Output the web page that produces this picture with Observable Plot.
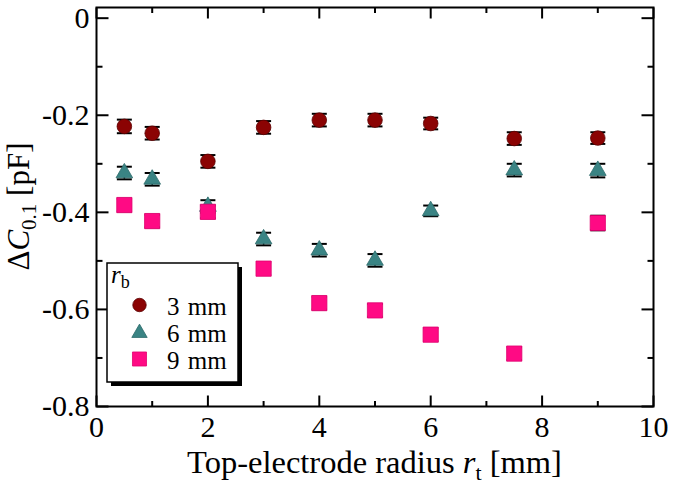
<!DOCTYPE html>
<html><head><meta charset="utf-8">
<script src="https://cdn.jsdelivr.net/npm/d3@7"></script>
<script src="https://cdn.jsdelivr.net/npm/@observablehq/plot@0.6"></script>
<style>body{margin:0;background:#fff} svg{display:block}</style>
</head><body><div id="chart"></div>
<script>
// ---- data ----
const radiusT = [0.5, 1, 2, 3, 4, 5, 6, 7.5, 9];            // top-electrode radius r_t [mm]
const seriesNames = ["3 mm", "6 mm", "9 mm"];               // bottom-electrode radius r_b
const dC_3mm = [-0.223, -0.237, -0.295, -0.225, -0.210, -0.210, -0.217, -0.248, -0.247];
const err_3mm = [0.014, 0.013, 0.013, 0.013, 0.013, 0.013, 0.012, 0.013, 0.012];
const dC_6mm = [-0.319, -0.332, -0.388, -0.455, -0.478, -0.499, -0.397, -0.313, -0.314];
const err_6mm = [0.013, 0.013, 0.013, 0.013, 0.013, 0.013, 0.011, 0.013, 0.014];
const dC_9mm = [-0.385, -0.418, -0.399, -0.516, -0.587, -0.602, -0.652, -0.691, -0.422];
const err_9mm = [0.013, 0.013, 0.013, 0.013, 0.013, 0.013, 0.013, 0.013, 0.015];
const xMajorTicks = [0, 2, 4, 6, 8, 10];
const xMinorTicks = [1, 3, 5, 7, 9];
const yMajorTicks = [0, -0.2, -0.4, -0.6, -0.8];
const yMinorTicks = [-0.1, -0.3, -0.5, -0.7];

// ---- build table ----
const values = [dC_3mm, dC_6mm, dC_9mm];
const errors = [err_3mm, err_6mm, err_9mm];
const rows = seriesNames.flatMap((s, k) => radiusT.map((x, i) => ({series: s, x, y: values[k][i], e: errors[k][i]})));
const bySeries = s => rows.filter(d => d.series === s);

const colors = {"3 mm": "#8b0303", "6 mm": "#3a8484", "9 mm": "#ff0a84"};
const strokes = {"3 mm": "#5a0000", "6 mm": "#2c6a6a", "9 mm": "#e0006e"};
const symbols = {"3 mm": "circle", "6 mm": "triangle", "9 mm": "square"};
const radii = {"3 mm": 7.3, "6 mm": 6.2, "9 mm": 8.6};

const vline = {draw(ctx, size) { const r = Math.sqrt(size / Math.PI); ctx.moveTo(0, -r); ctx.lineTo(0, r); }};
const hline = {draw(ctx, size) { const r = Math.sqrt(size / Math.PI); ctx.moveTo(-r, 0); ctx.lineTo(r, 0); }};

const font = "'Liberation Serif', 'Times New Roman', serif";
const fmtY = d => d === 0 ? "0" : d.toFixed(1);
const tickMarks = [
  Plot.dot(xMajorTicks, {x: d => d, frameAnchor: "bottom", symbol: vline, r: 5.5, dy: -5.5, stroke: "black", strokeWidth: 2}),
  Plot.dot(xMinorTicks, {x: d => d, frameAnchor: "bottom", symbol: vline, r: 2.75, dy: -2.75, stroke: "black", strokeWidth: 2}),
  Plot.dot(xMajorTicks, {x: d => d, frameAnchor: "top", symbol: vline, r: 5.5, dy: 5.5, stroke: "black", strokeWidth: 2}),
  Plot.dot(xMinorTicks, {x: d => d, frameAnchor: "top", symbol: vline, r: 2.75, dy: 2.75, stroke: "black", strokeWidth: 2}),
  Plot.dot(yMajorTicks, {y: d => d, frameAnchor: "left", symbol: hline, r: 6, dx: 6, stroke: "black", strokeWidth: 2}),
  Plot.dot(yMinorTicks, {y: d => d, frameAnchor: "left", symbol: hline, r: 3, dx: 3, stroke: "black", strokeWidth: 2}),
  Plot.dot(yMajorTicks, {y: d => d, frameAnchor: "right", symbol: hline, r: 6, dx: -6, stroke: "black", strokeWidth: 2}),
  Plot.dot(yMinorTicks, {y: d => d, frameAnchor: "right", symbol: hline, r: 3, dx: -3, stroke: "black", strokeWidth: 2})
];

const errMarks = [
  Plot.ruleX(rows, {x: "x", y1: d => d.y - d.e, y2: d => d.y + d.e, stroke: "black", strokeWidth: 1.5}),
  Plot.dot(rows, {x: "x", y: d => d.y + d.e, symbol: hline, r: 7.5, stroke: "black", strokeWidth: 2}),
  Plot.dot(rows, {x: "x", y: d => d.y - d.e, symbol: hline, r: 7.5, stroke: "black", strokeWidth: 2})
];

const pointMarks = seriesNames.map(s => Plot.dot(bySeries(s), {
  x: "x", y: "y", symbol: symbols[s], r: radii[s], fill: colors[s], stroke: strokes[s], strokeWidth: 0.8
}));

const chart = Plot.plot({
  width: 675, height: 489,
  marginLeft: 96, marginRight: 22, marginTop: 7, marginBottom: 83,
  style: {fontFamily: font, fontSize: "30px", color: "black", background: "white"},
  x: {domain: [0, 10]},
  y: {domain: [-0.8, 0.022]},
  marks: [
    Plot.axisX(xMajorTicks, {tickSize: 0, tickPadding: 9, fontSize: 30, fontFamily: font, label: null, tickFormat: d => String(d)}),
    Plot.axisY(yMajorTicks, {tickSize: 0, tickPadding: 7, fontSize: 30, fontFamily: font, label: null, tickFormat: fmtY}),
    ...errMarks,
    ...pointMarks,
    ...tickMarks,
    Plot.frame({stroke: "black", strokeWidth: 2})
  ]
});
document.getElementById("chart").appendChild(chart);

const svg = d3.select(chart);
// make sure tick labels use the serif face
svg.attr("font-family", font);
svg.selectAll("g[aria-label$='tick label'], g[aria-label$='tick label'] text")
  .attr("font-family", font).style("font-family", font).style("font-size", "30px");

// ---- axis titles with italics / subscripts ----
const xs = chart.scale("x"), ys = chart.scale("y");
const xc = (xs.range[0] + xs.range[1]) / 2;
const yc = (ys.range[0] + ys.range[1]) / 2;

const xt = svg.append("text").attr("x", xc).attr("y", 473).attr("text-anchor", "middle")
  .style("font-family", font).style("font-size", "32.5px").attr("fill", "black");
xt.append("tspan").text("Top-electrode radius ");
xt.append("tspan").style("font-style", "italic").text("r");
xt.append("tspan").attr("dy", 7).style("font-size", "22px").text("t");
xt.append("tspan").attr("dy", -7).text(" [mm]");

const yt = svg.append("text").attr("transform", `translate(29,${yc}) rotate(-90)`).attr("text-anchor", "middle")
  .style("font-family", font).style("font-size", "31px").attr("fill", "black");
yt.append("tspan").text("Δ");
yt.append("tspan").style("font-style", "italic").text("C");
yt.append("tspan").attr("dy", 7).style("font-size", "21px").text("0.1");
yt.append("tspan").attr("dy", -7).text(" [pF]");

// ---- legend ----
const lg = svg.append("g").attr("text-anchor", "start");
lg.append("rect").attr("x", 111).attr("y", 267).attr("width", 131).attr("height", 119).attr("fill", "black");
lg.append("rect").attr("x", 107).attr("y", 263).attr("width", 131).attr("height", 119)
  .attr("fill", "white").attr("stroke", "black").attr("stroke-width", 1.5);
const lt = lg.append("text").attr("x", 111).attr("y", 283).attr("text-anchor", "start")
  .style("font-family", font).style("font-size", "25px").attr("fill", "black");
lt.append("tspan").style("font-style", "italic").text("r");
lt.append("tspan").attr("dy", 5).style("font-size", "18px").text("b");
const d3sym = {circle: d3.symbolCircle, triangle: d3.symbolTriangle, square: d3.symbolSquare};
seriesNames.forEach((s, i) => {
  const cy = 305 + i * 27;
  const r = radii[s];
  lg.append("path").attr("transform", `translate(139.5,${cy + (s === "6 mm" ? 1 : 0)})`)
    .attr("d", d3.symbol(d3sym[symbols[s]], Math.PI * r * r * 0.85)())
    .attr("fill", colors[s]).attr("stroke", strokes[s]).attr("stroke-width", 0.8);
  lg.append("text").attr("x", 167).attr("y", cy + 10).attr("text-anchor", "start")
    .style("font-family", font).style("font-size", "25px")
    .style("word-spacing", "2px").attr("fill", "black").text(s);
});
</script>
</body></html>
